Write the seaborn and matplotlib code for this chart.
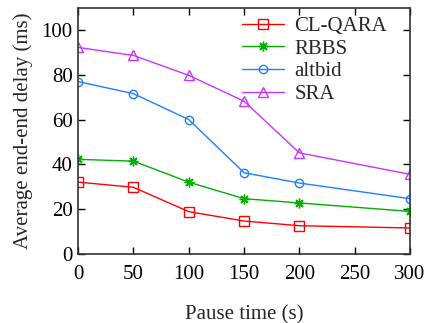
import matplotlib
matplotlib.use("Agg")
import matplotlib.pyplot as plt
import seaborn as sns
import pandas as pd

pause = [0, 50, 100, 150, 200, 300]
cl_qara = [32.1, 29.8, 18.9, 14.7, 12.6, 11.6]
rbbs = [42.3, 41.5, 32.1, 24.7, 22.8, 19.0]
altbid = [77.1, 71.7, 60.1, 36.3, 31.7, 24.7]
sra = [92.4, 88.8, 79.9, 68.3, 45.2, 35.6]
names = ["CL-QARA", "RBBS", "altbid", "SRA"]
series = [cl_qara, rbbs, altbid, sra]
colors = ["#ff0000", "#00b000", "#1e7fff", "#cc33ff"]
markers = ["s", (8, 2, 0), "o", "^"]
msizes = [6.5, 7, 6, 7]
xticks = [0, 50, 100, 150, 200, 250, 300]
yticks = [0, 20, 40, 60, 80, 100]

sns.set_theme(style="ticks")
plt.rcParams["font.family"] = ["Liberation Serif", "DejaVu Serif"]

fig = plt.figure(figsize=(4.39, 3.23), dpi=100)
ax = fig.add_axes([0.178, 0.214, 0.756, 0.761])

for name, vals, c, m, ms in zip(names, series, colors, markers, msizes):
    df = pd.DataFrame({"x": pause, "y": vals})
    sns.lineplot(data=df, x="x", y="y", ax=ax, color=c, marker=m,
                 markersize=ms, markerfacecolor="none", markeredgecolor=c,
                 markeredgewidth=1.0, linewidth=1.0, label=name)

ax.set_xlim(0, 300)
ax.set_ylim(0, 110)
ax.set_xticks(xticks)
ax.set_yticks(yticks)
ax.tick_params(direction="in", length=5, width=1, top=True, right=True,
               labelsize=15, colors="black")
ax.tick_params(axis="x", pad=8)
ax.tick_params(axis="y", pad=4)
for s in ax.spines.values():
    s.set_color("#333333")
    s.set_linewidth(1.2)
ax.set_xlabel("Pause time (s)", fontsize=15, labelpad=15)
ax.set_ylabel("Average end-end delay (ms)", fontsize=15, labelpad=6)
leg = ax.legend(loc="upper left", bbox_to_anchor=(0.47, 1.0), frameon=False,
                fontsize=15, handlelength=2.0, labelspacing=0.15,
                borderaxespad=0.0, handletextpad=0.5)
fig.savefig("out.png", dpi=100)
